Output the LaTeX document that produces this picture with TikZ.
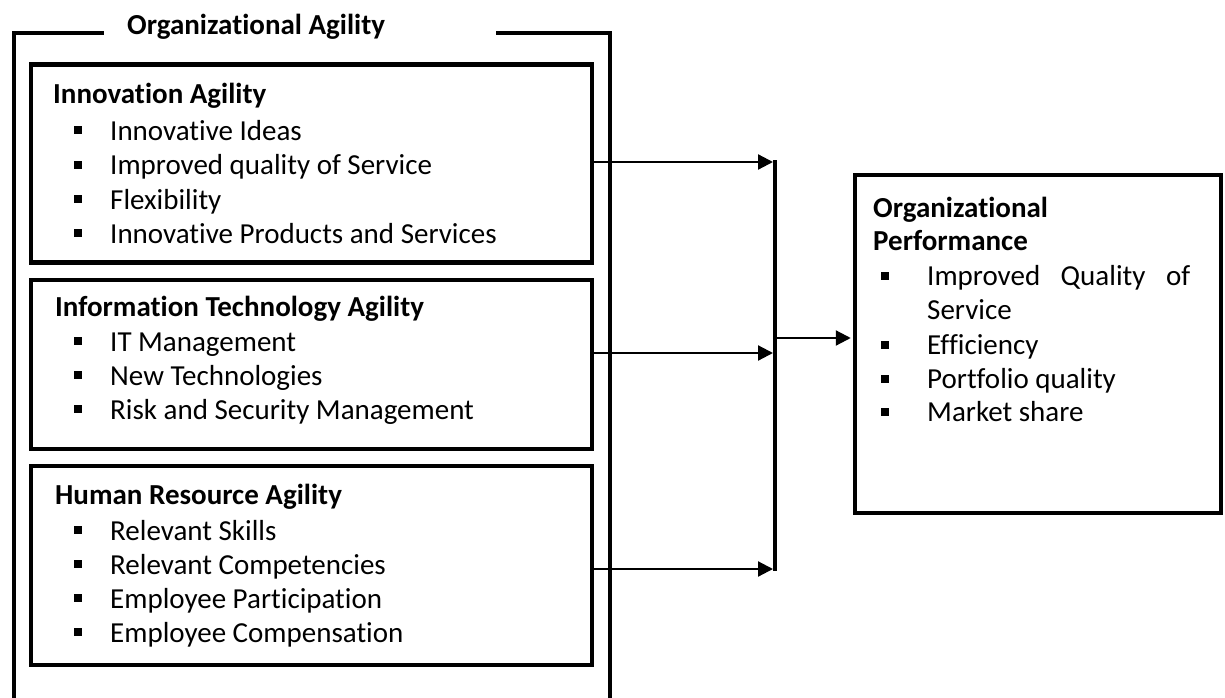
\documentclass[tikz,border=0pt]{standalone}
\usepackage{fontspec}
\setmainfont{Carlito}[RawFeature={-liga;-clig;-calt;-dlig}]
\usetikzlibrary{arrows.meta}

\tikzset{
  frameline/.style={line width=4.5pt, line cap=rect},
  panel/.style={draw, line width=4.5pt, rectangle, inner sep=0pt},
  head/.style={anchor=base west, inner sep=0pt, font=\fontsize{29}{34}\selectfont\bfseries},
  item/.style={anchor=base west, inner sep=0pt, font=\fontsize{29}{34}\selectfont},
  bul/.style={rectangle, fill=black, minimum size=8pt, inner sep=0pt},
  link/.style={line width=2.2pt, -{Triangle[length=15pt,width=15pt]}},
  bar/.style={line width=4.5pt}
}

\begin{document}
\begin{tikzpicture}[x=1pt, y=-1pt]
\useasboundingbox (0,0) rectangle (1225,698);

% outer frame with its title in the gap of the top edge
\draw[frameline] (102,33) -- (14,33) -- (14,700);
\draw[frameline] (498,33) -- (610,33) -- (610,700);
\node[head] (oatitle) at (127,35) {Organizational Agility};

% three agility panels
\node[panel, minimum width=561pt, minimum height=198pt] (box1) at (311.5,163.5) {};
\node[panel, minimum width=561pt, minimum height=169pt] (box2) at (311.5,364.5) {};
\node[panel, minimum width=561pt, minimum height=199pt] (box3) at (311.5,565.5) {};

% Innovation Agility
\node[head] (t1) at (53,103) {Innovation Agility};
\node[bul] (b11) at (78,130) {};
\node[item] (i11) at (110,140) {Innovative Ideas};
\node[bul] (b12) at (78,164.5) {};
\node[item] (i12) at (110,174.5) {Improved quality of Service};
\node[bul] (b13) at (78,199) {};
\node[item] (i13) at (110,209) {Flexibility};
\node[bul] (b14) at (78,233) {};
\node[item] (i14) at (110,243) {Innovative Products and Services};

% Information Technology Agility
\node[head] (t2) at (55,316) {Information Technology Agility};
\node[bul] (b21) at (78,341) {};
\node[item] (i21) at (110,351) {IT Management};
\node[bul] (b22) at (78,375) {};
\node[item] (i22) at (110,385) {New Technologies};
\node[bul] (b23) at (78,409) {};
\node[item] (i23) at (110,419) {Risk and Security Management};

% Human Resource Agility
\node[head] (t3) at (55,504) {Human Resource Agility};
\node[bul] (b31) at (78,530) {};
\node[item] (i31) at (110,540) {Relevant Skills};
\node[bul] (b32) at (78,564) {};
\node[item] (i32) at (110,574) {Relevant Competencies};
\node[bul] (b33) at (78,598) {};
\node[item] (i33) at (110,608) {Employee Participation};
\node[bul] (b34) at (78,632) {};
\node[item] (i34) at (110,642) {Employee Compensation};

% performance panel
\node[panel, minimum width=366pt, minimum height=338pt] (perf) at (1038,344) {};
\node[head] (tp1) at (873,217) {Organizational};
\node[head] (tp2) at (873,250.5) {Performance};
\node[bul] (bp1) at (885,276) {};
\node[item] (ip1) at (927,285) {\makebox[263pt][s]{Improved Quality of}};
\node[item] (ip1b) at (927,319.5) {Service};
\node[bul] (bp2) at (885,345) {};
\node[item] (ip2) at (927,354) {Efficiency};
\node[bul] (bp3) at (885,379) {};
\node[item] (ip3) at (927,388) {Portfolio quality};
\node[bul] (bp4) at (885,412) {};
\node[item] (ip4) at (927,421) {Market share};

% collecting bar and connectors
\coordinate (bartop) at (775,160);
\coordinate (barbot) at (775,571);
\coordinate (j1) at (773,162);
\coordinate (j2) at (773,353);
\coordinate (j3) at (773,569);
\coordinate (jout) at (775,338);
\draw[bar] (bartop) -- (barbot);
\draw[link] (box1.east |- j1) -- (j1);
\draw[link] (box2.east |- j2) -- (j2);
\draw[link] (box3.east |- j3) -- (j3);
\draw[link, shorten >=2pt] (jout) -- (perf.west |- jout);
\end{tikzpicture}
\end{document}
